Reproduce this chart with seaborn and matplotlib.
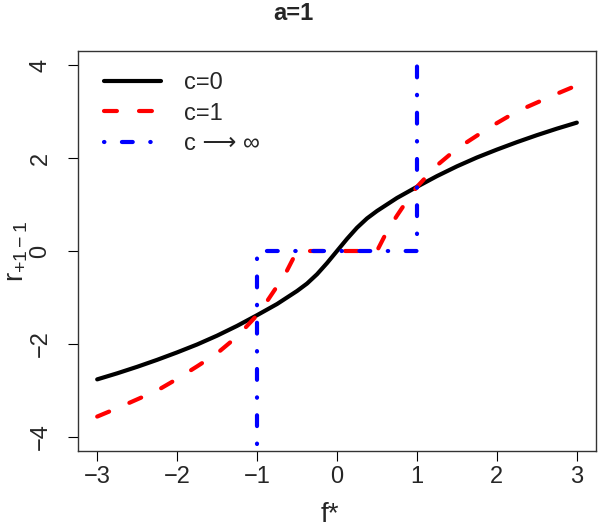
import numpy as np
import pandas as pd
import matplotlib
matplotlib.use("Agg")
import matplotlib.pyplot as plt
import seaborn as sns

# Werte
f_c0 = [-3.0, -2.75, -2.5, -2.25, -2.0, -1.75, -1.5, -1.25,
        -1.0, -0.875, -0.75, -0.625, -0.5, -0.375, -0.25, -0.125, 0.0,
        0.125, 0.25, 0.375, 0.5, 0.625, 0.75, 0.875, 1.0,
        1.25, 1.5, 1.75, 2.0, 2.25, 2.5, 2.75, 3.0]
r_c0 = [-2.76, -2.63, -2.49, -2.34, -2.18, -2.01, -1.82, -1.61,
        -1.38, -1.26, -1.14, -1.0, -0.86, -0.7, -0.5, -0.26, 0.0,
        0.26, 0.5, 0.7, 0.86, 1.0, 1.14, 1.26, 1.38,
        1.61, 1.82, 2.01, 2.18, 2.34, 2.49, 2.63, 2.76]

f_c1 = [-3.0, -2.75, -2.5, -2.25, -2.0, -1.75, -1.5, -1.25,
        -1.0, -0.875, -0.75, -0.625, -0.5, 0.0, 0.5, 0.625, 0.75, 0.875, 1.0,
        1.25, 1.5, 1.75, 2.0, 2.25, 2.5, 2.75, 3.0]
r_c1 = [-3.56, -3.38, -3.19, -3.0, -2.75, -2.48, -2.2, -1.84,
        -1.38, -1.08, -0.76, -0.42, 0.0, 0.0, 0.0, 0.42, 0.76, 1.08, 1.38,
        1.84, 2.2, 2.48, 2.75, 3.0, 3.19, 3.38, 3.56]

f_inf = [-1.0, -1.0, 1.0, 1.0]
r_inf = [-4.15, 0.0, 0.0, 4.15]

labels = ["c=0", "c=1", "c \u27f6 \u221e"]
x_ticks = [-3, -2, -1, 0, 1, 2, 3]
y_ticks = [-4, -2, 0, 2, 4]

sns.set_style("white")
plt.rcParams['font.family'] = ['Liberation Sans', 'DejaVu Sans']
plt.rcParams['mathtext.fontset'] = 'custom'
plt.rcParams['mathtext.rm'] = 'Liberation Sans'
plt.rcParams['mathtext.it'] = 'Liberation Sans'

fig = plt.figure(figsize=(6, 5.29), dpi=100)
ax = fig.add_axes([78/600, 1-451/529, 518/600, 400/529])

lw = 3.0
df0 = pd.DataFrame({'f': f_c0, 'r': r_c0})
df1 = pd.DataFrame({'f': f_c1, 'r': r_c1})
df2 = pd.DataFrame({'f': f_inf, 'r': r_inf})

sns.lineplot(data=df0, x='f', y='r', color='black', lw=lw, sort=False, estimator=None,
             label=labels[0], ax=ax, solid_capstyle='round', solid_joinstyle='round')
sns.lineplot(data=df1, x='f', y='r', color='#ff0000', lw=lw, sort=False, estimator=None,
             label=labels[1], ax=ax, linestyle=(0, (3.1, 5.3)), dash_capstyle='round')
sns.lineplot(data=df2, x='f', y='r', color='#0000ff', lw=lw, sort=False, estimator=None,
             label=labels[2], ax=ax, linestyle=(0, (0.1, 4.2, 2.6, 4.2)), dash_capstyle='round')

ax.set_xlim(-3.24, 3.24)
ax.set_ylim(-4.3, 4.3)
ax.set_xticks(x_ticks)
ax.set_yticks(y_ticks)
ax.set_xticklabels([f"\u2212{abs(v)}" if v < 0 else str(v) for v in x_ticks], fontsize=17)
ax.set_yticklabels([f"\u2212{abs(v)}" if v < 0 else str(v) for v in y_ticks], fontsize=17,
                   rotation=90, va='center')
ax.tick_params(axis='x', direction='out', length=7, width=0.8, color='black', pad=4, bottom=True)
ax.tick_params(axis='y', direction='out', length=7, width=0.8, color='black', pad=12, left=True)
for s in ax.spines.values():
    s.set_color('#333333')
    s.set_linewidth(1.0)

ax.set_xlabel("f*", fontsize=20)
ax.xaxis.set_label_coords(0.486, -0.16)
ax.set_ylabel(r"$\mathregular{r_{+1-1}}$", fontsize=20)
ax.yaxis.set_label_coords(-0.118, 0.5)
ax.yaxis.label.set_va('center')
ax.xaxis.label.set_va('center')

fig.text(293/600, 1-13/529, "a=1", fontsize=17, fontweight='bold', ha='center', va='center')

ax.legend(loc='upper left', bbox_to_anchor=(0.05, 0.947), frameon=False, fontsize=17,
          handlelength=2.4, handletextpad=1.0, labelspacing=0.36, borderpad=0, borderaxespad=0)

plt.savefig("out.png", dpi=100)
